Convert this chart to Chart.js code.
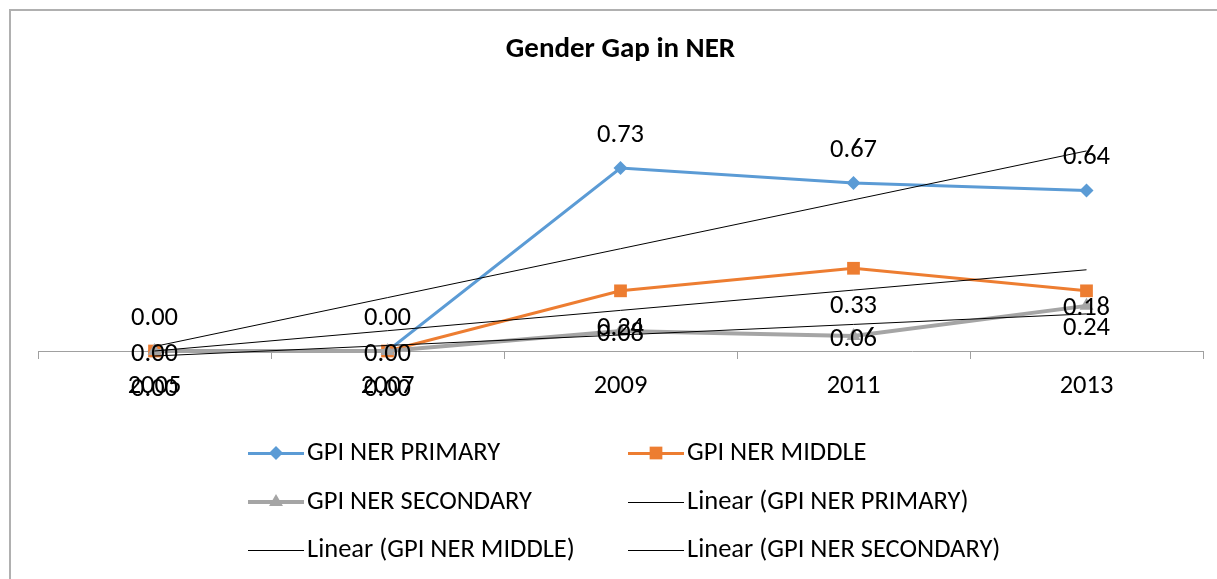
<!DOCTYPE html>
<html>
<head>
<meta charset="utf-8">
<script src="https://cdn.jsdelivr.net/npm/chart.js@4"></script>
<style>
  html, body { margin: 0; padding: 0; background: #fff; overflow: hidden; }
  #frame { position: absolute; left: 9px; top: 9px; width: 1230px; height: 600px; border: 2px solid #b0b0b0; }
  canvas { display: block; }
</style>
</head>
<body>
<div id="frame"><canvas id="chart" width="1220" height="568"></canvas></div>
<script>
const years = ['2005', '2007', '2009', '2011', '2013']
const gpiPrimary = [0, 0, 0.73, 0.67, 0.64]
const gpiMiddle = [0, 0, 0.24, 0.33, 0.24]
const gpiSecondary = [0, 0, 0.08, 0.06, 0.18]

// excel style linear trendline, least squares over x = 1..n
function linearTrend(values){
    const n = values.length
    const xs = values.map((v, i) => i + 1)
    const mx = xs.reduce((a, b) => a + b, 0) / n
    const my = values.reduce((a, b) => a + b, 0) / n
    let num = 0, den = 0
    xs.forEach((x, i) => { num += (x - mx) * (values[i] - my); den += (x - mx) * (x - mx) })
    const slope = num / den
    return xs.map(x => my + slope * (x - mx))
}

const FONT = 'Carlito, Lato, sans-serif'
Chart.defaults.font.family = FONT
Chart.defaults.color = '#000'

// value labels drawn next to each point
const valueLabels = {
    id: 'valueLabels',
    afterDatasetsDraw(chart){
        const ctx = chart.ctx
        ctx.save()
        ctx.font = '26.5px ' + FONT
        ctx.fillStyle = '#000'
        ctx.textAlign = 'center'
        ctx.textBaseline = 'middle'
        chart.data.datasets.forEach((ds, i) => {
            if (ds.labelShift === undefined) return
            chart.getDatasetMeta(i).data.forEach((pt, j) => {
                ctx.fillText(ds.data[j].toFixed(2), pt.x, pt.y + ds.labelShift)
            })
        })
        ctx.restore()
    }
}

// two column legend under the plot
const gridLegend = {
    id: 'gridLegend',
    afterDraw(chart){
        const ctx = chart.ctx
        const colX = [237, 617]
        const rowY = [442, 491, 539]
        ctx.save()
        chart.data.datasets.forEach((ds, i) => {
            const x = colX[i % 2]
            const y = rowY[Math.floor(i / 2)]
            const ly = ds.borderWidth % 2 ? y + 0.5 : y
            ctx.strokeStyle = ds.borderColor
            ctx.lineWidth = ds.borderWidth
            ctx.beginPath()
            ctx.moveTo(x, ly)
            ctx.lineTo(x + 56, ly)
            ctx.stroke()
            if (ds.pointRadius > 0) {
                ctx.fillStyle = ds.pointBackgroundColor
                ctx.strokeStyle = ds.pointBackgroundColor
                Chart.helpers.drawPoint(ctx, { pointStyle: ds.pointStyle, radius: ds.pointRadius, rotation: 0, borderWidth: 0 }, x + 28, y)
            }
            ctx.font = '26.5px ' + FONT
            ctx.fillStyle = '#000'
            ctx.textAlign = 'left'
            ctx.textBaseline = 'middle'
            ctx.fillText(ds.label, x + 59, y)
        })
        ctx.restore()
    }
}

const ctx = document.getElementById('chart')

new Chart(ctx, {
    type: 'line',
    data: {
        labels: years,
        datasets: [{
            label: 'GPI NER PRIMARY',
            data: gpiPrimary,
            borderColor: '#5B9BD5',
            pointBackgroundColor: '#5B9BD5',
            borderWidth: 3,
            pointStyle: 'rectRot',
            pointRadius: 7,
            pointBorderWidth: 0,
            labelShift: -33,
            order: 6
        }, {
            label: 'GPI NER MIDDLE',
            data: gpiMiddle,
            borderColor: '#ED7D31',
            pointBackgroundColor: '#ED7D31',
            borderWidth: 3,
            pointStyle: 'rect',
            pointRadius: 9,
            pointBorderWidth: 0,
            labelShift: 38,
            order: 5
        }, {
            label: 'GPI NER SECONDARY',
            data: gpiSecondary,
            borderColor: '#A5A5A5',
            pointBackgroundColor: '#A5A5A5',
            borderWidth: 4,
            pointStyle: 'triangle',
            pointRadius: 8,
            pointBorderWidth: 0,
            labelShift: 3,
            order: 4
        }, {
            label: 'Linear (GPI NER PRIMARY)',
            data: linearTrend(gpiPrimary),
            borderColor: '#000',
            borderWidth: 1,
            pointRadius: 0,
            order: 3
        }, {
            label: 'Linear (GPI NER MIDDLE)',
            data: linearTrend(gpiMiddle),
            borderColor: '#000',
            borderWidth: 1,
            pointRadius: 0,
            order: 2
        }, {
            label: 'Linear (GPI NER SECONDARY)',
            data: linearTrend(gpiSecondary),
            borderColor: '#000',
            borderWidth: 1,
            pointRadius: 0,
            order: 1
        }]
    },
    options: {
        responsive: false,
        animation: false,
        events: [],
        clip: false,
        layout: { padding: { left: 27, right: 28, top: 0, bottom: 158 } },
        scales: {
            x: {
                offset: true,
                grid: { drawOnChartArea: false, drawTicks: true, tickLength: 8, color: '#a0a0a0', offset: true },
                border: { display: true, color: '#a0a0a0', width: 1 },
                ticks: { color: '#000', font: { size: 26.5 }, padding: 11, maxRotation: 0 },
                afterFit(scale){ scale.height = 70 }
            },
            y: { display: false, min: 0, max: 1 }
        },
        plugins: {
            legend: { display: false },
            tooltip: { enabled: false },
            title: {
                display: true,
                text: 'Gender Gap in NER',
                color: '#000',
                font: { size: 29, weight: 'bold' },
                padding: { top: 21.6, bottom: 32.9 }
            }
        }
    },
    plugins: [valueLabels, gridLegend]
});
</script>
</body>
</html>
